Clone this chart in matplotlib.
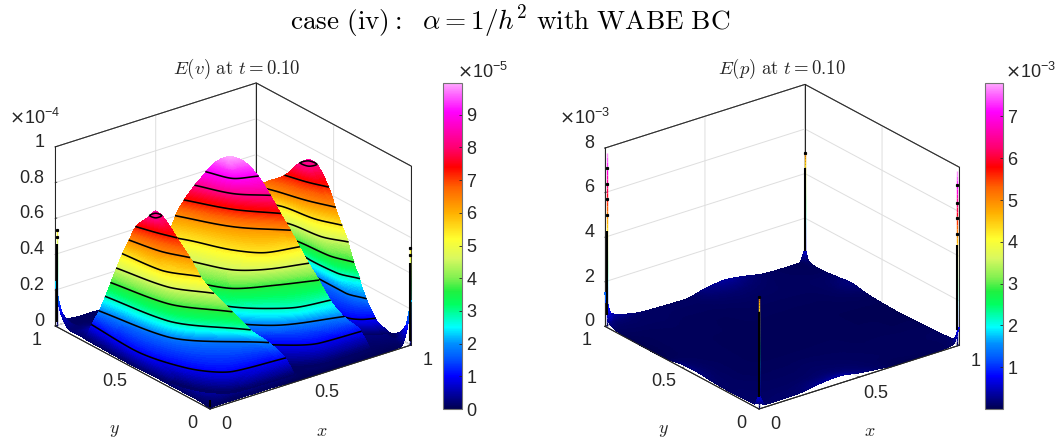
import numpy as np
import matplotlib
matplotlib.use("Agg")
import matplotlib.pyplot as plt
from matplotlib.colors import LinearSegmentedColormap, Normalize
from matplotlib.cm import ScalarMappable
from matplotlib.transforms import ScaledTranslation
from mpl_toolkits.mplot3d import proj3d

plt.rcParams['font.family'] = ['Liberation Sans', 'DejaVu Sans']

# ---- values -----------------------------------------------------------
# E(v), units of 1e-4. Each hump is given by the floor position (x, y) of its
# visible contour arcs, from its left end to its right end, one arc per height.
H1_Z = [.012, .1, .189, .279, .368, .458, .547, .636, .726, .815, .835]
H1_ARCS = [
 [(.006,.81),(.0,.5),(.01,.32),(.07,.13),(.17,.05),(.45,.04)],
 [(.0168,.785),(.002,.496),(.062,.23),(.188,.093),(.427,.069)],
 [(.028,.751),(.089,.396),(.372,.106)],
 [(.038,.723),(.089,.396),(.295,.125)],
 [(.0425,.694),(.0965,.404),(.2505,.185)],
 [(.051,.668),(.0997,.409),(.207,.247)],
 [(.06,.642),(.084,.431),(.17,.285)],
 [(.068,.609),(.10,.453),(.155,.334)],
 [(.0737,.573),(.103,.478),(.136,.392)],
 [(.0886,.504),(.0936,.472),(.1256,.475)],
 [(.107,.498),(.107,.496),(.112,.496)],
]
H1_RING = [(.0886,.504),(.0936,.472),(.1256,.475),(.1206,.507)]
H1_LINES = [1, 2, 3, 4, 5, 6, 7, 8]

H2_Z = [.012, .1, .189, .279, .368, .458, .547, .636, .726, .815, .905, .94, .97, .997]
H2_ARCS = [
 [(.3,.4),(.5,.08),(.62,.04),(.83,.04)],
 [(.286,.435),(.481,.185),(.624,.099),(.818,.088)],
 [(.258,.507),(.428,.276),(.522,.203),(.757,.122)],
 [(.269,.542),(.372,.343),(.471,.246),(.585,.178),(.717,.156)],
 [(.282,.58),(.343,.423),(.391,.357),(.546,.278),(.705,.215)],
 [(.2955,.62),(.3395,.505),(.4055,.375),(.5125,.30),(.6775,.245)],
 [(.307,.656),(.345,.587),(.428,.404),(.518,.306),(.652,.271)],
 [(.355,.682),(.471,.46),(.628,.298)],
 [(.38,.658),(.478,.47),(.601,.327)],
 [(.406,.6235),(.477,.4685),(.582,.3675)],
 [(.425,.577),(.472,.461),(.562,.42)],
 [(.455,.569),(.481,.484),(.552,.454)],
 [(.472,.548),(.483,.491),(.535,.479)],
 [(.488,.515),(.488,.503),(.50,.505)],
]
H2_LINES = [1, 2, 3, 4, 5, 6, 7, 8, 9, 10]

H3_Z = [.012, .1, .189, .279, .368, .458, .547, .636, .726, .815, .835]
H3_ARCS = [
 [(.84,.28),(.88,.2),(.93,.16),(.99,.12)],
 [(.838,.291),(.859,.215),(.892,.176),(.939,.153)],
 [(.904,.527),(.901,.449),(.901,.297),(.933,.204)],
 [(.895,.58),(.889,.497),(.897,.347),(.935,.25)],
 [(.857,.617),(.8685,.536),(.8805,.379),(.9195,.268)],
 [(.83,.646),(.853,.568),(.872,.421),(.926,.312)],
 [(.803,.676),(.836,.611),(.862,.451),(.911,.333)],
 [(.785,.696),(.807,.639),(.853,.483),(.903,.365)],
 [(.838,.603),(.867,.501),(.905,.411)],
 [(.865,.54),(.872,.495),(.909,.49)],
 [(.885,.521),(.887,.518),(.892,.518)],
]
H3_RING = [(.865,.54),(.872,.495),(.909,.49),(.903,.535)]
H3_LINES = [1, 2, 3, 4, 5, 6, 7, 8]

FRONT_RING = [(.024,.132),(.033,.100),(.066,.099),(.056,.131)]
FRONT_RING_Z = .1

# height of the floor around the humps, one row per F_Y entry
F_X = [0, .02, .06, .12, .2, .3, .42, .47, .55, .7, .78, .85, .95, .98, 1]
F_Y = [0, .03, .08, .14, .25, .5, .8, .9, .96, 1]
F_Z = [
 [.005,.01,.01,.01,.01,.01,.005,.005,.005,.005,.005,.005,.01,.10,.25],
 [.01,.02,.04,.045,.04,.03,.02,.01,.015,.015,.01,.01,.015,.05,.10],
 [.015,.05,.09,.08,.07,.05,.03,.01,.02,.02,.01,.015,.02,.01,.03],
 [.015,.06,.11,.09,.09,.07,.04,.01,.02,.02,.01,.02,.03,.01,.005],
 [.015,.06,.08,.10,.10,.08,.05,.02,.02,.02,.01,.02,.02,.01,.005],
 [.02,.07,.09,.10,.10,.08,.05,.02,.02,.02,.02,.02,.02,.01,.005],
 [.02,.05,.06,.05,.04,.04,.03,.02,.02,.02,.02,.02,.02,.01,.005],
 [.02,.02,.02,.015,.01,.01,.01,.01,.01,.01,.01,.01,.01,.01,.005],
 [.08,.05,.01,.01,.01,.01,.01,.01,.01,.01,.01,.01,.01,.01,.005],
 [.25,.10,.02,.01,.01,.005,.005,.005,.005,.005,.005,.005,.005,.005,.005],
]
V_MAX = 0.997

P_X = [0, .03, .1, .2, .3, .4, .5, .6, .7, .8, .9, .97, 1]
P_Y = [0, .03, .1, .2, .3, .4, .5, .6, .7, .8, .9, .97, 1]
# E(p) in units of 1e-3, one row per P_Y entry
P_Z = [
 [.60,.12,.12,.14,.28,.34,.20,.10,.02,.03,.05,.12,.80],
 [.12,.10,.11,.12,.20,.24,.16,.08,.04,.05,.05,.08,.15],
 [.10,.10,.09,.09,.10,.12,.10,.07,.06,.06,.06,.07,.09],
 [.09,.09,.08,.07,.07,.08,.07,.06,.05,.05,.05,.05,.05],
 [.12,.10,.07,.05,.05,.05,.05,.05,.04,.04,.03,.03,.02],
 [.18,.12,.07,.05,.04,.04,.04,.04,.04,.03,.03,.02,.01],
 [.16,.10,.06,.05,.04,.04,.04,.04,.04,.03,.03,.03,.03],
 [.03,.04,.05,.05,.04,.04,.04,.04,.04,.04,.05,.07,.08],
 [.01,.03,.05,.05,.05,.04,.05,.05,.05,.05,.08,.16,.20],
 [.02,.04,.05,.06,.05,.05,.06,.07,.07,.07,.08,.10,.12],
 [.06,.07,.08,.08,.07,.07,.10,.12,.10,.07,.06,.05,.05],
 [.25,.14,.12,.09,.08,.08,.18,.25,.16,.08,.05,.04,.10],
 [1.5,.50,.25,.10,.07,.05,.25,.36,.24,.08,.05,.05,.60],
]
P_MAX = 7.8

# corner spikes: (x, y, black solid z-range, isolated black dot heights, top)
V_SPIKES = [
 (.004, .996, (.02, .46), [.50, .535], .535),
 (.996, .004, (.02, .455), [.50, .54], .54),
 (.004, .004, (.01, .045), [], .045),
]
P_SPIKES = [
 (.006, .994, (.5, 4.3), [5.0, 5.7, 6.4, 7.1], 7.8),
 (.994, .994, (.55, 4.3), [4.97], 4.97),
 (.994, .006, (.67, 4.5), [5.0, 5.7, 6.4, 7.2], 7.8),
 (.006, .006, (.5, 4.33), [5.0], 5.0),
]

CMAP_VALUES = [0, 1.0, 1.5, 2.0, 2.5, 3.2, 3.6, 4.0, 4.6, 5.2, 6.0, 6.8, 7.4, 8.0, 9.1, 9.97]
CMAP_COLORS = ['#000050', '#0000ff', '#0050ff', '#0090ff', '#00ffff', '#00ff60', '#20f040', '#80f050',
               '#d8f860', '#ffff30', '#ffb000', '#ff6000', '#ff0000', '#ff0070', '#ff00ff', '#ffa8ff']
CMAP = LinearSegmentedColormap.from_list(
    'rainbow', [(v / 9.97, c) for v, c in zip(CMAP_VALUES, CMAP_COLORS)], N=512)

# ---- geometry in pixels --------------------------------------------------
W, H = 1063, 440
EL, AZ = 24.4, -127.6
DARK = (.15, .15, .15)
FINE = 260
ARC_SAMPLES = 90
Z_STEPS = 14


def pchip(xn, yn, xq):
    xn = np.asarray(xn, float); yn = np.asarray(yn, float)
    h = np.diff(xn); dl = np.diff(yn) / h
    d = np.zeros_like(yn)
    for k in range(1, len(xn) - 1):
        if dl[k - 1] * dl[k] > 0:
            w1, w2 = 2 * h[k] + h[k - 1], h[k] + 2 * h[k - 1]
            d[k] = (w1 + w2) / (w1 / dl[k - 1] + w2 / dl[k])
    d[0], d[-1] = dl[0], dl[-1]
    i = np.clip(np.searchsorted(xn, xq) - 1, 0, len(h) - 1)
    t = (xq - xn[i]) / h[i]
    return ((2*t**3 - 3*t**2 + 1) * yn[i] + (t**3 - 2*t**2 + t) * h[i] * d[i]
            + (-2*t**3 + 3*t**2) * yn[i + 1] + (t**3 - t**2) * h[i] * d[i + 1])


def mesh_from_table(xn, yn, table):
    """Like MATLAB's shading interp: a fine display mesh over the read table."""
    xf = np.linspace(0, 1, FINE); yf = np.linspace(0, 1, FINE)
    rows = np.array([pchip(xn, r, xf) for r in np.asarray(table, float)])
    zf = np.array([pchip(yn, rows[:, j], yf) for j in range(FINE)]).T
    X, Y = np.meshgrid(xf, yf)
    return X, Y, zf


def resample_arc(arc):
    pts = np.array(arc, float)
    s = np.r_[0, np.cumsum(np.hypot(*np.diff(pts, axis=0).T))]
    s /= s[-1]
    q = np.linspace(0, 1, ARC_SAMPLES)
    return pchip(s, pts[:, 0], q), pchip(s, pts[:, 1], q)


def closed_curve(pts):
    pts = np.array(pts, float)
    q = np.linspace(0, len(pts), 60)
    i = np.floor(q).astype(int) % len(pts); u = (q - np.floor(q))[:, None]
    n = len(pts)
    p0, p1, p2, p3 = pts[(i-1) % n], pts[i], pts[(i+1) % n], pts[(i+2) % n]
    c = .5*((2*p1) + (p2-p0)*u + (2*p0-5*p1+4*p2-p3)*u**2 + (3*p1-p0-3*p2+p3)*u**3)
    return c[:, 0], c[:, 1]


def loft(zs, arcs):
    """Surface mesh through the arcs of one hump."""
    a = np.array([np.column_stack(resample_arc(r)) for r in arcs])
    zq = np.concatenate([np.linspace(zs[k], zs[k+1], Z_STEPS, endpoint=False) for k in range(len(zs)-1)] + [[zs[-1]]])
    X = np.array([pchip(zs, a[:, j, 0], zq) for j in range(ARC_SAMPLES)]).T
    Y = np.array([pchip(zs, a[:, j, 1], zq) for j in range(ARC_SAMPLES)]).T
    Z = np.tile(zq[:, None], (1, ARC_SAMPLES))
    return np.clip(X, 0, 1), np.clip(Y, 0, 1), Z


def place(ax, front, right):
    """Scale and shift the 3-D axes until the box corners sit on the reference's."""
    cx, cy, side = 400., 220., 400.
    for _ in range(3):
        ax.set_position([(cx - side/2)/W, (cy - side/2)/H, side/W, side/H])
        ax.apply_aspect()
        M = ax.get_proj()
        pts = []
        for c in [(0, 0, 0), (1, 0, 0)]:
            xs, ys, _z = proj3d.proj_transform(c[0], c[1], c[2], M)
            pts.append(ax.transData.transform((xs, ys)))
        span = np.hypot(*(pts[1] - pts[0]))
        target = np.hypot(right[0]-front[0], right[1]-front[1])
        side *= target / span
        ax.set_position([(cx - side/2)/W, (cy - side/2)/H, side/W, side/H])
        ax.apply_aspect()
        xs, ys, _z = proj3d.proj_transform(0, 0, 0, ax.get_proj())
        p = ax.transData.transform((xs, ys))
        cx += front[0] - p[0]
        cy += (H - front[1]) - p[1]
    ax.set_position([(cx - side/2)/W, (cy - side/2)/H, side/W, side/H])
    ax.apply_aspect()


def shift(ax, dx, dy):
    return ax.transData + ScaledTranslation(dx/100, dy/100, fig.dpi_scale_trans)


def offset_tick_labels(ax, axis, dx, dy, ha=None):
    original = axis.get_major_ticks
    trans = shift(ax, dx, dy)

    def patched(numticks=None):
        ticks = original(numticks)
        for t in ticks:
            t.label1.set_transform(trans)
            if ha:
                t.label1.set_horizontalalignment(ha)
        return ticks
    axis.get_major_ticks = patched


def offset_axis_label(ax, axis, dx, dy):
    label = axis.label
    original = label.draw
    trans = shift(ax, dx, dy)

    def draw(renderer):
        label._transform = trans
        original(renderer)
    label.draw = draw


def draw_spikes(ax, spikes, vmax):
    for sx_, sy_, solid, dots, top in spikes:
        zz = np.linspace(0, top, 40)
        for a_, b_ in zip(zz[:-1], zz[1:]):
            ax.plot([sx_, sx_], [sy_, sy_], [a_, b_], color=CMAP(min((a_+b_)/2/vmax, 1)),
                    lw=1.0, zorder=30, solid_capstyle='butt')
        ax.plot([sx_, sx_], [sy_, sy_], list(solid), color='k', lw=1.5, zorder=31, solid_capstyle='butt')
        if dots:
            ax.plot([sx_]*len(dots), [sy_]*len(dots), dots, 's', color='k', ms=1.3, zorder=31)


def draw_frame(ax):
    """The box edges in dark, over the light grid lines that end on them."""
    lo, hi = ax.get_zlim()
    back = [((0, 1), (0, 1)), ((1, 1), (1, 1)), ((1, 0), (1, 0))]
    for (xa, ya), (xb, yb) in back:
        ax.plot([xa, xb], [ya, yb], [lo, hi], color=DARK, lw=.75, zorder=.5)
    ax.plot([0, 1, 1], [1, 1, 0], [hi, hi, hi], color=DARK, lw=.75, zorder=.5)
    ax.plot([0, 0, 1], [1, 0, 0], [lo, lo, lo], color=DARK, lw=.75, zorder=20)


def panel(front, right, zmax, zticks, zlabels, title, title_x, offs_z, offs_x):
    ax = fig.add_subplot(projection='3d', proj_type='ortho', computed_zorder=False)
    ax.patch.set_visible(False)
    ax.set_xlim(0, 1, view_margin=0); ax.set_ylim(0, 1, view_margin=0); ax.set_zlim(0, zmax, view_margin=0)
    ax.view_init(elev=EL, azim=AZ)
    ax.set_box_aspect((1, 1, .775), zoom=1)
    place(ax, front, right)

    ax.set_xticks([0, .5, 1]); ax.set_xticklabels(['0', '0.5', '1'])
    ax.set_yticks([0, .5, 1]); ax.set_yticklabels(['0', '0.5', '1'])
    ax.set_zticks(zticks); ax.set_zticklabels(zlabels)
    ax.tick_params(axis='both', labelsize=13, colors=DARK, pad=1)
    for axis in (ax.xaxis, ax.yaxis, ax.zaxis):
        axis.set_pane_color((1, 1, 1, 1))
        axis.pane.set_edgecolor(DARK); axis.pane.set_linewidth(.6)
        axis.line.set_color(DARK); axis.line.set_linewidth(.6)
        axis._axinfo['grid'].update(color=(.87, .87, .87, 1), linewidth=.7)
        axis._axinfo['tick'].update(inward_factor=0, outward_factor=.1, linewidth={True: .6, False: .6})
    offset_tick_labels(ax, ax.xaxis, 7, 8.5)
    offset_tick_labels(ax, ax.yaxis, -6, 9)
    offset_tick_labels(ax, ax.zaxis, 11, 12, ha='right')
    ax.set_xlabel('$x$', fontsize=13, labelpad=2, math_fontfamily='cm', color=DARK)
    ax.set_ylabel('$y$', fontsize=13, labelpad=2, math_fontfamily='cm', color=DARK)
    offset_axis_label(ax, ax.xaxis, -13, -14)
    offset_axis_label(ax, ax.yaxis, 13, -25)
    draw_frame(ax)
    ax.set_xlim(0, 1, view_margin=0); ax.set_ylim(0, 1, view_margin=0); ax.set_zlim(0, zmax, view_margin=0)

    fig.text(title_x/W, 1 - 69/H, title, ha='center', va='center', fontsize=13.5,
             math_fontfamily='cm', color=DARK)
    fig.text(offs_x/W, 1 - 118/H, offs_z, ha='left', va='center', fontsize=13, color=DARK)
    return ax


def colorbar(x0, x1, vmin, vmax, ticks, offset, off_x):
    cax = fig.add_axes([x0/W, 1 - 409/H, (x1 - x0)/W, (409 - 83)/H])
    cb = fig.colorbar(ScalarMappable(Normalize(vmin, vmax), CMAP), cax=cax)
    cb.set_ticks(ticks); cb.set_ticklabels([str(t) for t in ticks])
    cax.tick_params(axis='y', direction='in', length=2.5, width=.6, labelsize=13, colors=DARK, pad=3)
    cb.outline.set_edgecolor((.45, .45, .45)); cb.outline.set_linewidth(.8)
    fig.text(off_x/W, 1 - 72/H, offset, ha='left', va='center', fontsize=13, color=DARK)


def draw_surface(ax, X, Y, Z, vmax, zorder):
    ax.plot_surface(X, Y, Z, facecolors=CMAP(np.clip(Z/vmax, 0, 1)), rstride=1, cstride=1, shade=False,
                    linewidth=.25, antialiased=False, zorder=zorder)


fig = plt.figure(figsize=(W/100, H/100), dpi=100, facecolor='white')
fig.text(510/W, 1 - 22/H, r'$\mathrm{case\ (iv){:}\ \ }\alpha = 1/h^2\mathrm{\ with\ WABE\ BC}$',
         ha='center', va='center', fontsize=19.6, math_fontfamily='cm', color='k')

# left panel: floor first, then the humps from the farthest to the nearest
axv = panel((210, 409), (411, 345), 1, [0, .2, .4, .6, .8, 1],
            ['0', '0.2', '0.4', '0.6', '0.8', '1'],
            r'$E(v)\ \mathrm{at}\ t = 0.10$', 237, r'$\times\mathregular{10^{-4}}$', 9)
draw_surface(axv, *mesh_from_table(F_X, F_Y, F_Z), V_MAX, 1)
rx, ry = closed_curve(FRONT_RING)
axv.plot(rx, ry, FRONT_RING_Z, color='k', lw=1.1, zorder=2)
order = [(H3_Z, H3_ARCS, H3_LINES, H3_RING), (H2_Z, H2_ARCS, H2_LINES, None), (H1_Z, H1_ARCS, H1_LINES, H1_RING)]
for n, (zs, arcs, lines, ring) in enumerate(order):
    base = 3 + 2*n
    draw_surface(axv, *loft(zs, arcs), V_MAX, base)
    for k in lines:
        ax_, ay_ = resample_arc(arcs[k])
        axv.plot(np.clip(ax_, 0, 1), np.clip(ay_, 0, 1), zs[k], color='k', lw=1.15, zorder=base + 1)
    if ring:
        rx, ry = closed_curve(ring)
        axv.plot(rx, ry, zs[-2], color='k', lw=1.1, zorder=base + 1)
draw_spikes(axv, V_SPIKES, V_MAX)

axp = panel((759, 409), (959, 345), 8, [0, 2, 4, 6, 8], ['0', '2', '4', '6', '8'],
            r'$E(p)\ \mathrm{at}\ t = 0.10$', 782, r'$\times\mathregular{10^{-3}}$', 559)
draw_surface(axp, *mesh_from_table(P_X, P_Y, P_Z), P_MAX, 1)
draw_spikes(axp, P_SPIKES, P_MAX)

colorbar(443, 462, 0, 9.97, list(range(10)), r'$\times\mathregular{10^{-5}}$', 457)
colorbar(985, 1003, 0, 7.8, list(range(1, 8)), r'$\times\mathregular{10^{-3}}$', 1005)

fig.savefig('out.png', dpi=100)
